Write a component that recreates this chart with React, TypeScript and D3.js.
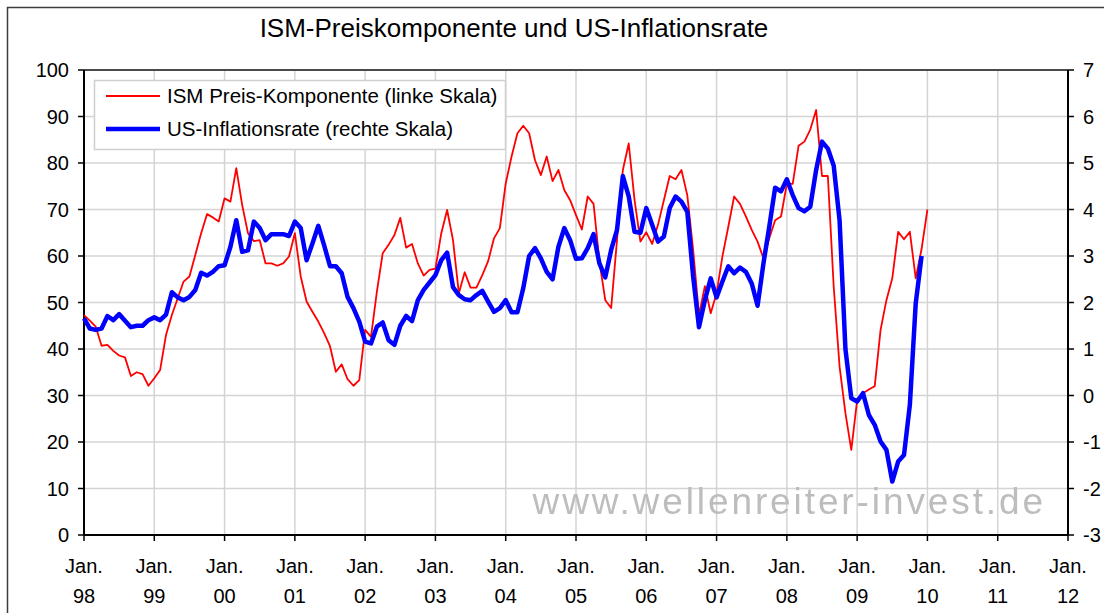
import React from "react";
import * as d3 from "d3";

// ISM Preis-Komponente, monthly Jan 1998 .. Jan 2010 (left scale)
const ismPrices = [
  47.3, 46.1, 44.8, 40.7, 40.9, 39.6, 38.6, 38.2, 34.2, 35.0, 34.6, 32.1,
  33.7, 35.5, 43.0, 47.3, 50.9, 54.5, 55.6, 60.2, 64.9, 69.0, 68.3, 67.4,
  72.4, 71.7, 78.9, 71.0, 64.9, 63.2, 63.4, 58.4, 58.4, 57.9, 58.4, 59.9,
  64.9, 55.6, 50.2, 48.0, 45.9, 43.4, 40.6, 35.1, 36.7, 33.5, 32.1, 33.3,
  44.1, 42.6, 52.3, 60.6, 62.4, 64.5, 68.2, 61.8, 62.6, 58.4, 55.8, 57.0,
  57.3, 64.9, 69.9, 63.4, 52.0, 56.5, 53.2, 53.2, 55.9, 58.9, 63.8, 66.0,
  75.6, 81.4, 86.4, 88.0, 86.4, 80.6, 77.4, 81.4, 76.1, 78.5, 74.2, 72.0,
  68.8, 65.7, 72.8, 71.2, 58.8, 50.5, 48.8, 63.4, 78.5, 84.2, 72.0, 63.1,
  65.1, 62.6, 66.7, 72.0, 77.2, 76.5, 78.5, 73.1, 61.3, 47.3, 53.5, 47.7,
  52.0, 59.9, 66.3, 72.8, 71.2, 68.5, 65.6, 63.1, 59.5, 63.8, 67.7, 68.5,
  75.5, 75.5, 83.7, 84.6, 87.2, 91.4, 77.2, 77.2, 53.4, 36.2, 26.2, 18.3,
  29.0, 30.5, 31.3, 32.0, 44.1, 50.5, 55.2, 65.2, 63.6, 65.2, 55.2, 61.5,
  70.0,
];

// US-Inflationsrate, monthly Jan 1998 .. Dec 2009 (right scale)
const usInflation = [
  1.66, 1.44, 1.41, 1.44, 1.71, 1.62, 1.75, 1.61, 1.47, 1.5, 1.5, 1.62,
  1.68, 1.62, 1.74, 2.22, 2.11, 2.05, 2.12, 2.27, 2.64, 2.58, 2.66, 2.78,
  2.8, 3.2, 3.77, 3.09, 3.12, 3.74, 3.6, 3.34, 3.47, 3.47, 3.47, 3.43,
  3.74, 3.6, 2.91, 3.27, 3.65, 3.23, 2.78, 2.78, 2.63, 2.12, 1.88, 1.59,
  1.16, 1.12, 1.48, 1.57, 1.19, 1.09, 1.5, 1.71, 1.6, 2.05, 2.27, 2.43,
  2.59, 2.91, 3.07, 2.33, 2.16, 2.07, 2.05, 2.16, 2.25, 2.02, 1.8, 1.88,
  2.05, 1.79, 1.79, 2.31, 3.0, 3.17, 2.95, 2.66, 2.5, 3.2, 3.6, 3.34,
  2.94, 2.95, 3.17, 3.47, 2.84, 2.54, 3.13, 3.56, 4.72, 4.28, 3.52, 3.5,
  4.03, 3.67, 3.31, 3.42, 4.03, 4.28, 4.17, 3.95, 2.56, 1.47, 2.05, 2.52,
  2.11, 2.45, 2.78, 2.63, 2.75, 2.66, 2.41, 1.93, 2.84, 3.63, 4.47, 4.39,
  4.65, 4.31, 4.03, 3.96, 4.06, 4.85, 5.46, 5.31, 4.94, 3.77, 1.0, -0.06,
  -0.13, 0.05, -0.42, -0.63, -0.99, -1.17, -1.85, -1.42, -1.28, -0.2, 1.98, 3.0,
];

const yearLabels = ["98", "99", "00", "01", "02", "03", "04", "05", "06", "07", "08", "09", "10", "11", "12"];
const leftTicks = [0, 10, 20, 30, 40, 50, 60, 70, 80, 90, 100];
const rightTicks = [-3, -2, -1, 0, 1, 2, 3, 4, 5, 6, 7];

const FONT = "'Liberation Sans', Arial, sans-serif";

export default function App() {
  const width = 1104;
  const height = 613;
  const margin = { top: 70, right: 36, bottom: 78, left: 84 };

  // x is months since Jan 98
  const x = d3.scaleLinear()
    .domain([0, (yearLabels.length - 1) * 12])
    .range([margin.left, width - margin.right]);
  const yL = d3.scaleLinear().domain([0, 100]).range([height - margin.bottom, margin.top]);
  const yR = d3.scaleLinear().domain([-3, 7]).range([height - margin.bottom, margin.top]);

  const redLine = d3.line<number>().x((d, i) => x(i)).y(d => yL(d));
  const blueLine = d3.line<number>().x((d, i) => x(i)).y(d => yR(d));

  const x0 = x.range()[0], x1 = x.range()[1];
  const y0 = yL.range()[0], y1 = yL.range()[1];

  return (
    <svg width={width} height={height} style={{ position: "absolute", left: 0, top: 0, background: "#fff" }}
      fontFamily={FONT}>
      <defs>
        <filter id="soft" x="-5%" y="-20%" width="110%" height="140%">
          <feGaussianBlur stdDeviation="0.7" />
        </filter>
      </defs>
      {/* outer chart frame */}
      <rect x={7.5} y={7.5} width={1120} height={640} fill="#fff" stroke="#3c3c3c" strokeWidth={1.5} />

      <text x={514} y={37} textAnchor="middle" fontSize={26} fill="#000">
        ISM-Preiskomponente und US-Inflationsrate
      </text>

      {/* grid */}
      {leftTicks.slice(1, -1).map(t => (
        <line key={"h" + t} x1={x0} x2={x1} y1={yL(t)} y2={yL(t)} stroke="#d4d4d4" strokeWidth={1.5} />
      ))}
      {yearLabels.slice(1, -1).map((l, i) => (
        <line key={"v" + l} x1={x((i + 1) * 12)} x2={x((i + 1) * 12)} y1={y1} y2={y0} stroke="#d4d4d4" strokeWidth={1.5} />
      ))}

      {/* watermark */}
      <text x={1046} y={514} textAnchor="end" fontSize={37} letterSpacing={2.9} fill="#bdbdbd" filter="url(#soft)">
        www.wellenreiter-invest.de
      </text>

      {/* plot frame */}
      <line x1={x0} x2={x1} y1={y1} y2={y1} stroke="#4a4a4a" strokeWidth={2} />
      <line x1={x0} x2={x0} y1={y1} y2={y0} stroke="#000" strokeWidth={2} />
      <line x1={x1} x2={x1} y1={y1} y2={y0} stroke="#000" strokeWidth={2} />
      <line x1={x0} x2={x1} y1={y0} y2={y0} stroke="#000" strokeWidth={2} />

      {/* left axis */}
      {leftTicks.map(t => (
        <g key={"l" + t}>
          <line x1={x0 - 6} x2={x0} y1={yL(t)} y2={yL(t)} stroke="#000" strokeWidth={1.5} />
          <text x={69} y={yL(t) + 7} textAnchor="end" fontSize={20}>{t}</text>
        </g>
      ))}

      {/* right axis */}
      {rightTicks.map(t => (
        <g key={"r" + t}>
          <line x1={x1} x2={x1 + 6} y1={yR(t)} y2={yR(t)} stroke="#000" strokeWidth={1.5} />
          <text x={1083} y={yR(t) + 7} textAnchor="start" fontSize={20}>{t}</text>
        </g>
      ))}

      {/* bottom axis */}
      {yearLabels.map((l, i) => (
        <g key={"b" + l}>
          <line x1={x(i * 12)} x2={x(i * 12)} y1={y0} y2={y0 + 6} stroke="#000" strokeWidth={1.5} />
          <text x={x(i * 12)} y={573} textAnchor="middle" fontSize={20}>Jan.</text>
          <text x={x(i * 12)} y={603} textAnchor="middle" fontSize={20}>{l}</text>
        </g>
      ))}

      {/* series */}
      <path d={redLine(ismPrices) || ""} fill="none" stroke="#ff0000" strokeWidth={1.8} strokeLinejoin="round" />
      <path d={blueLine(usInflation) || ""} fill="none" stroke="#0000ff" strokeWidth={4.5} strokeLinejoin="round" />

      {/* legend */}
      <rect x={94.5} y={80.5} width={411} height={69} fill="#fff" stroke="#cfcfcf" strokeWidth={1.5} />
      <line x1={106} x2={160} y1={96} y2={96} stroke="#ff0000" strokeWidth={1.8} />
      <text x={167} y={103} fontSize={20.5}>ISM Preis-Komponente (linke Skala)</text>
      <line x1={106} x2={160} y1={129} y2={129} stroke="#0000ff" strokeWidth={4.5} />
      <text x={167} y={136} fontSize={20.5}>US-Inflationsrate (rechte Skala)</text>
    </svg>
  );
}
